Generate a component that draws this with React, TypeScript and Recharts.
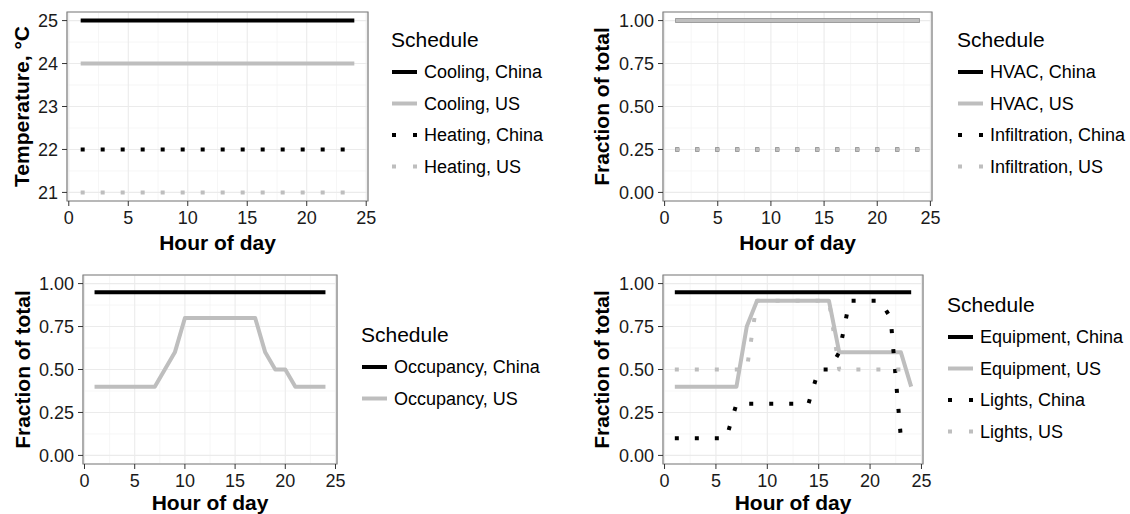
import { CartesianGrid, Legend, Line, LineChart, ReferenceArea, XAxis, YAxis } from "recharts";

const FONT = '"Liberation Sans", Arial, Helvetica, sans-serif';
const BLACK = "#000000";
const GREY = "#BEBEBE";
const DOTS = "4 16";

const hours = [1, 2, 3, 4, 5, 6, 7, 8, 9, 10, 11, 12, 13, 14, 15, 16, 17, 18, 19, 20, 21, 22, 23, 24];

// Temperature setpoints, °C
const coolingChina = [25, 25, 25, 25, 25, 25, 25, 25, 25, 25, 25, 25, 25, 25, 25, 25, 25, 25, 25, 25, 25, 25, 25, 25];
const coolingUS = [24, 24, 24, 24, 24, 24, 24, 24, 24, 24, 24, 24, 24, 24, 24, 24, 24, 24, 24, 24, 24, 24, 24, 24];
const heatingChina = [22, 22, 22, 22, 22, 22, 22, 22, 22, 22, 22, 22, 22, 22, 22, 22, 22, 22, 22, 22, 22, 22, 22, 22];
const heatingUS = [21, 21, 21, 21, 21, 21, 21, 21, 21, 21, 21, 21, 21, 21, 21, 21, 21, 21, 21, 21, 21, 21, 21, 21];

// Fractions of total
const hvacChina = [1, 1, 1, 1, 1, 1, 1, 1, 1, 1, 1, 1, 1, 1, 1, 1, 1, 1, 1, 1, 1, 1, 1, 1];
const hvacUS = [1, 1, 1, 1, 1, 1, 1, 1, 1, 1, 1, 1, 1, 1, 1, 1, 1, 1, 1, 1, 1, 1, 1, 1];
const infilChina = [0.25, 0.25, 0.25, 0.25, 0.25, 0.25, 0.25, 0.25, 0.25, 0.25, 0.25, 0.25, 0.25, 0.25, 0.25, 0.25, 0.25, 0.25, 0.25, 0.25, 0.25, 0.25, 0.25, 0.25];
const infilUS = [0.25, 0.25, 0.25, 0.25, 0.25, 0.25, 0.25, 0.25, 0.25, 0.25, 0.25, 0.25, 0.25, 0.25, 0.25, 0.25, 0.25, 0.25, 0.25, 0.25, 0.25, 0.25, 0.25, 0.25];

const occChina = [0.95, 0.95, 0.95, 0.95, 0.95, 0.95, 0.95, 0.95, 0.95, 0.95, 0.95, 0.95, 0.95, 0.95, 0.95, 0.95, 0.95, 0.95, 0.95, 0.95, 0.95, 0.95, 0.95, 0.95];
const occUS = [0.4, 0.4, 0.4, 0.4, 0.4, 0.4, 0.4, 0.5, 0.6, 0.8, 0.8, 0.8, 0.8, 0.8, 0.8, 0.8, 0.8, 0.6, 0.5, 0.5, 0.4, 0.4, 0.4, 0.4];

const equipChina = [0.95, 0.95, 0.95, 0.95, 0.95, 0.95, 0.95, 0.95, 0.95, 0.95, 0.95, 0.95, 0.95, 0.95, 0.95, 0.95, 0.95, 0.95, 0.95, 0.95, 0.95, 0.95, 0.95, 0.95];
const equipUS = [0.4, 0.4, 0.4, 0.4, 0.4, 0.4, 0.4, 0.75, 0.9, 0.9, 0.9, 0.9, 0.9, 0.9, 0.9, 0.9, 0.6, 0.6, 0.6, 0.6, 0.6, 0.6, 0.6, 0.4];
const lightsChina = [0.1, 0.1, 0.1, 0.1, 0.1, 0.1, 0.3, 0.3, 0.3, 0.3, 0.3, 0.3, 0.3, 0.3, 0.5, 0.5, 0.6, 0.9, 0.9, 0.9, 0.9, 0.8, 0.1, 0.1];
const lightsUS = [0.5, 0.5, 0.5, 0.5, 0.5, 0.5, 0.5, 0.5, 0.9, 0.9, 0.9, 0.9, 0.9, 0.9, 0.9, 0.9, 0.5, 0.5, 0.5, 0.5, 0.5, 0.5, 0.5, 0.5];

const xTicks = [0, 5, 10, 15, 20, 25];
const xMinorTicks = [2.5, 7.5, 12.5, 17.5, 22.5];
const tempTicks = [21, 22, 23, 24, 25];
const tempMinorTicks = [21.5, 22.5, 23.5, 24.5];
const fracTicks = [0, 0.25, 0.5, 0.75, 1];
const fracMinorTicks = [0.125, 0.375, 0.625, 0.875];

const X_DOMAIN: [number, number] = [-0.15, 25.15];
const TEMP_DOMAIN: [number, number] = [20.8, 25.2];
const FRAC_DOMAIN: [number, number] = [-0.05, 1.05];

type SeriesDef = { key: string; name: string; color: string; dotted: boolean; values: number[] };

function toRows(series: SeriesDef[]) {
  return hours.map((hour, i) => {
    const row: Record<string, number> = { hour };
    series.forEach((s) => {
      row[s.key] = s.values[i];
    });
    return row;
  });
}

const setpointSeries: SeriesDef[] = [
  { key: "coolingChina", name: "Cooling, China", color: BLACK, dotted: false, values: coolingChina },
  { key: "coolingUS", name: "Cooling, US", color: GREY, dotted: false, values: coolingUS },
  { key: "heatingChina", name: "Heating, China", color: BLACK, dotted: true, values: heatingChina },
  { key: "heatingUS", name: "Heating, US", color: GREY, dotted: true, values: heatingUS },
];
const hvacSeries: SeriesDef[] = [
  { key: "hvacChina", name: "HVAC, China", color: BLACK, dotted: false, values: hvacChina },
  { key: "hvacUS", name: "HVAC, US", color: GREY, dotted: false, values: hvacUS },
  { key: "infilChina", name: "Infiltration, China", color: BLACK, dotted: true, values: infilChina },
  { key: "infilUS", name: "Infiltration, US", color: GREY, dotted: true, values: infilUS },
];
const occSeries: SeriesDef[] = [
  { key: "occChina", name: "Occupancy, China", color: BLACK, dotted: false, values: occChina },
  { key: "occUS", name: "Occupancy, US", color: GREY, dotted: false, values: occUS },
];
const equipSeries: SeriesDef[] = [
  { key: "equipChina", name: "Equipment, China", color: BLACK, dotted: false, values: equipChina },
  { key: "equipUS", name: "Equipment, US", color: GREY, dotted: false, values: equipUS },
  { key: "lightsChina", name: "Lights, China", color: BLACK, dotted: true, values: lightsChina },
  { key: "lightsUS", name: "Lights, US", color: GREY, dotted: true, values: lightsUS },
];

const tickStyle = { fill: "#1A1A1A", fontSize: 18, fontFamily: FONT };

function XTitle(props: any) {
  const vb = props.viewBox;
  return (
    <text x={vb.x + vb.width / 2} y={vb.y + props.dy} textAnchor="middle" fontFamily={FONT} fontWeight="bold" fontSize={21} fill="#000">
      Hour of day
    </text>
  );
}

function YTitle(props: any) {
  const vb = props.viewBox;
  const x = vb.x + props.cx;
  const y = vb.y + vb.height / 2;
  return (
    <text
      x={x}
      y={y}
      transform={`rotate(-90 ${x} ${y})`}
      textAnchor="middle"
      dominantBaseline="central"
      fontFamily={FONT}
      fontWeight="bold"
      fontSize={21}
      fill="#000"
    >
      {props.text}
    </text>
  );
}

function ScheduleLegend({ series }: { series: SeriesDef[] }) {
  return (
    <svg width={200} height={60 + series.length * 32} style={{ overflow: "visible" }}>
      <text x={3} y={27} fontFamily={FONT} fontSize={21} fill="#000">
        Schedule
      </text>
      {series.map((s, i) => {
        const y = 52 + i * 31.5;
        return (
          <g key={s.key}>
            <line x1={4} x2={29} y1={y} y2={y} stroke={s.color} strokeWidth={4} strokeDasharray={s.dotted ? "4 17" : undefined} />
            <text x={36} y={y} dominantBaseline="central" fontFamily={FONT} fontSize={18} fill="#000">
              {s.name}
            </text>
          </g>
        );
      })}
    </svg>
  );
}

type PanelProps = {
  left: number;
  top: number;
  height: number;
  plotLeft: number;
  plotTop: number;
  plotRight: number;
  xAxisHeight: number;
  xTitleDy: number;
  yTitle: string;
  yTitleX: number;
  yDomain: [number, number];
  yTicks: number[];
  yMinorTicks: number[];
  fraction: boolean;
  series: SeriesDef[];
  legendLeft: number;
  legendTop: number;
};

const CHART_WIDTH = 565;

function SchedulePanel(p: PanelProps) {
  const rows = toRows(p.series);
  return (
    <div style={{ position: "absolute", left: p.left, top: p.top }}>
      <LineChart
        width={CHART_WIDTH}
        height={p.height}
        data={rows}
        margin={{ top: p.plotTop, right: CHART_WIDTH - p.plotRight, bottom: 0, left: 0 }}
      >
        <XAxis xAxisId="minor" type="number" dataKey="hour" domain={X_DOMAIN} ticks={xMinorTicks} allowDataOverflow hide />
        <YAxis yAxisId="minor" type="number" domain={p.yDomain} ticks={p.yMinorTicks} allowDataOverflow hide />
        <CartesianGrid xAxisId="minor" yAxisId="minor" stroke="#F4F4F4" strokeWidth={0.8} />
        <CartesianGrid stroke="#EBEBEB" strokeWidth={1.1} />
        <XAxis
          type="number"
          dataKey="hour"
          domain={X_DOMAIN}
          ticks={xTicks}
          allowDataOverflow
          axisLine={false}
          tickSize={5}
          tickMargin={5}
          tickLine={{ stroke: "#333333" }}
          tick={tickStyle}
          height={p.xAxisHeight}
          label={<XTitle dy={p.xTitleDy} />}
        />
        <YAxis
          type="number"
          domain={p.yDomain}
          ticks={p.yTicks}
          allowDataOverflow
          axisLine={false}
          tickSize={5}
          tickMargin={4}
          tickLine={{ stroke: "#333333" }}
          tick={tickStyle}
          width={p.plotLeft}
          tickFormatter={(v: number) => (p.fraction ? v.toFixed(2) : String(v))}
          label={<YTitle cx={p.yTitleX} text={p.yTitle} />}
        />
        <ReferenceArea
          x1={X_DOMAIN[0]}
          x2={X_DOMAIN[1]}
          y1={p.yDomain[0]}
          y2={p.yDomain[1]}
          fill="none"
          stroke="#7F7F7F"
          strokeWidth={1.2}
          ifOverflow="visible"
        />
        {p.series.map((s) => (
          <Line
            key={s.key}
            type="linear"
            dataKey={s.key}
            name={s.name}
            stroke={s.color}
            strokeWidth={4}
            strokeDasharray={s.dotted ? DOTS : undefined}
            strokeLinejoin="round"
            dot={false}
            activeDot={false}
            isAnimationActive={false}
          />
        ))}
        <Legend
          layout="vertical"
          align="center"
          verticalAlign="middle"
          wrapperStyle={{ left: p.legendLeft, top: p.legendTop, width: 200 }}
          content={() => <ScheduleLegend series={p.series} />}
        />
      </LineChart>
    </div>
  );
}

export default function App() {
  return (
    <div style={{ position: "absolute", left: 0, top: 0, width: 1130, height: 514, background: "#fff", overflow: "hidden" }}>
      <SchedulePanel
        left={0}
        top={0}
        height={260}
        plotLeft={67}
        plotTop={12}
        plotRight={368}
        xAxisHeight={59}
        xTitleDy={49}
        yTitle="Temperature, °C"
        yTitleX={21}
        yDomain={TEMP_DOMAIN}
        yTicks={tempTicks}
        yMinorTicks={tempMinorTicks}
        fraction={false}
        series={setpointSeries}
        legendLeft={388}
        legendTop={20}
      />
      <SchedulePanel
        left={565}
        top={0}
        height={260}
        plotLeft={98}
        plotTop={12}
        plotRight={367}
        xAxisHeight={59}
        xTitleDy={49}
        yTitle="Fraction of total"
        yTitleX={36}
        yDomain={FRAC_DOMAIN}
        yTicks={fracTicks}
        yMinorTicks={fracMinorTicks}
        fraction={true}
        series={hvacSeries}
        legendLeft={389}
        legendTop={20}
      />
      <SchedulePanel
        left={0}
        top={260}
        height={254}
        plotLeft={83}
        plotTop={15}
        plotRight={337}
        xAxisHeight={50}
        xTitleDy={46}
        yTitle="Fraction of total"
        yTitleX={22}
        yDomain={FRAC_DOMAIN}
        yTicks={fracTicks}
        yMinorTicks={fracMinorTicks}
        fraction={true}
        series={occSeries}
        legendLeft={358}
        legendTop={55}
      />
      <SchedulePanel
        left={565}
        top={260}
        height={254}
        plotLeft={98}
        plotTop={15}
        plotRight={358}
        xAxisHeight={50}
        xTitleDy={46}
        yTitle="Fraction of total"
        yTitleX={36}
        yDomain={FRAC_DOMAIN}
        yTicks={fracTicks}
        yMinorTicks={fracMinorTicks}
        fraction={true}
        series={equipSeries}
        legendLeft={379}
        legendTop={25}
      />
    </div>
  );
}
